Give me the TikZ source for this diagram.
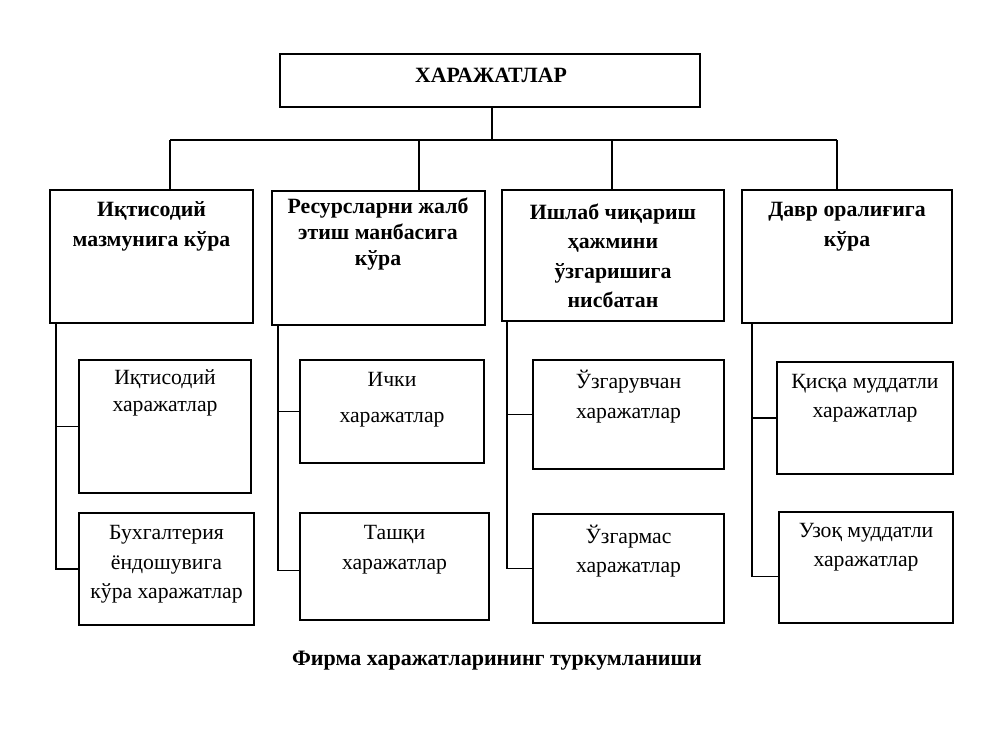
\documentclass[tikz,border=0pt]{standalone}
\usepackage{fontspec}
\setmainfont{Liberation Serif}
\begin{document}
\begin{tikzpicture}[x=1pt,y=-1pt,
  box/.style={draw,line width=1.4pt,rectangle,inner sep=0pt},
  head/.style={font=\bfseries\fontsize{21.8}{29.5}\selectfont,align=center,inner sep=0pt},
  sub/.style={font=\fontsize{21.7}{29.5}\selectfont,align=center,inner sep=0pt},
  con/.style={line width=1.4pt}]
\useasboundingbox (0,0) rectangle (1000,750);
% top
\node[box,minimum width=420pt,minimum height=53pt] (top) at (490,80.5) {};
\node[head] (toptxt) at (491,75) {ХАРАЖАТЛАР};
% level 1 boxes
\node[box,minimum width=203pt,minimum height=133pt] (b1) at (151.5,256.5) {};
\node[box,minimum width=213pt,minimum height=134pt] (b2) at (378.5,258) {};
\node[box,minimum width=222pt,minimum height=131pt] (b3) at (613,255.5) {};
\node[box,minimum width=210pt,minimum height=133pt] (b4) at (847,256.5) {};
\node[head] (h1) at (151.5,226.5) {Иқтисодий\\мазмунига кўра};
\node[head,font=\bfseries\fontsize{21.8}{26}\selectfont] (h2) at (378,234.5) {Ресурсларни жалб\\этиш манбасига\\кўра};
\node[head] (h3) at (613,256) {Ишлаб чиқариш\\ҳажмини\\ўзгаришига\\нисбатан};
\node[head] (h4) at (847,226.5) {Давр оралиғига\\кўра};
% level 2 boxes
\node[box,minimum width=172pt,minimum height=133pt] (c11) at (165,426.5) {};
\node[box,minimum width=175pt,minimum height=112pt] (c12) at (166.5,569) {};
\node[box,minimum width=184pt,minimum height=103pt] (c21) at (392,411.5) {};
\node[box,minimum width=189pt,minimum height=107pt] (c22) at (394.5,566.5) {};
\node[box,minimum width=191pt,minimum height=109pt] (c31) at (628.5,414.5) {};
\node[box,minimum width=191pt,minimum height=109pt] (c32) at (628.5,568.5) {};
\node[box,minimum width=176pt,minimum height=112pt] (c41) at (865,418) {};
\node[box,minimum width=174pt,minimum height=111pt] (c42) at (866,567.5) {};
\node[sub,font=\fontsize{21.7}{27}\selectfont] (s11) at (165,392.5) {Иқтисодий\\харажатлар};
\node[sub] (s12) at (166.5,564.5) {Бухгалтерия\\ёндошувига\\кўра харажатлар};
\node[sub,font=\fontsize{21.7}{36}\selectfont] (s21) at (392,400) {Ички\\харажатлар};
\node[sub] (s22) at (394.5,549.5) {Ташқи\\харажатлар};
\node[sub] (s31) at (628.5,396.5) {Ўзгарувчан\\харажатлар};
\node[sub] (s32) at (628.5,551) {Ўзгармас\\харажатлар};
\node[sub] (s41) at (865,398) {Қисқа муддатли\\харажатлар};
\node[sub] (s42) at (866,547) {Узоқ муддатли\\харажатлар};
% caption
\node[head,font=\bfseries\fontsize{22}{26}\selectfont] (cap) at (497,661) {Фирма харажатларининг туркумланиши};
% bus
\coordinate (bt) at (492,140);
\coordinate (d1) at (170,140);
\coordinate (d2) at (419,140);
\coordinate (d3) at (612,140);
\coordinate (d4) at (837,140);
\draw[con] (top.south -| bt) -- (bt);
\draw[con] (d1) -- (d4);
\draw[con] (d1) -- (b1.north -| d1);
\draw[con] (d2) -- (b2.north -| d2);
\draw[con] (d3) -- (b3.north -| d3);
\draw[con] (d4) -- (b4.north -| d4);
% trunks
\coordinate (t1) at (56,0);
\coordinate (t2) at (278,0);
\coordinate (t3) at (507,0);
\coordinate (t4) at (752,0);
\draw[con] (b1.south -| t1) |- (c12.west);
\draw[con] (t1 |- c11.west) -- (c11.west);
\draw[con] (b2.south -| t2) |- ([yshift=-4pt]c22.west);
\draw[con] (t2 |- c21.west) -- (c21.west);
\draw[con] (b3.south -| t3) |- (c32.west);
\draw[con] (t3 |- c31.west) -- (c31.west);
\draw[con] (b4.south -| t4) |- ([yshift=-9pt]c42.west);
\draw[con] (t4 |- c41.west) -- (c41.west);
\end{tikzpicture}
\end{document}
